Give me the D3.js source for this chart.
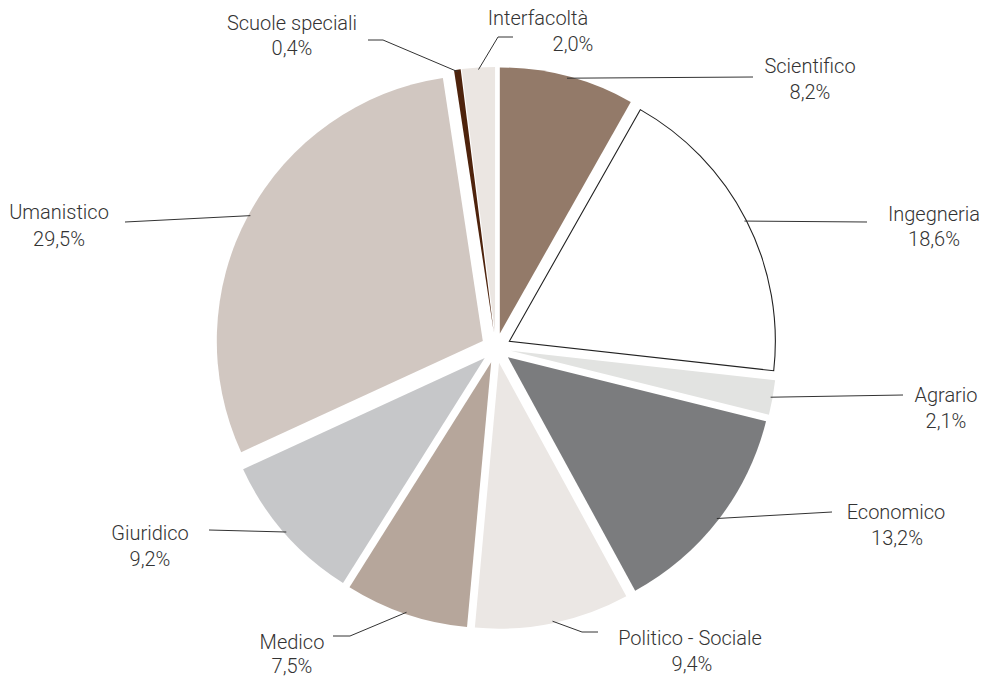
<!DOCTYPE html>
<html>
<head>
<meta charset="utf-8">
<script src="https://cdn.jsdelivr.net/npm/d3@7"></script>
<style>
  html, body { margin: 0; padding: 0; background: #ffffff; }
  svg { display: block; }
  text { font-family: Roboto, "Liberation Sans", sans-serif; font-weight: 300; fill: #333333; }
</style>
</head>
<body>
<svg id="chart" width="992" height="678"></svg>
<script>
// ---- data ----
const categories = ["Scientifico", "Ingegneria", "Agrario", "Economico", "Politico - Sociale",
                    "Medico", "Giuridico", "Umanistico", "Scuole speciali", "Interfacoltà"];
const values = [8.2, 18.6, 2.1, 13.2, 9.4, 7.5, 9.2, 29.5, 0.4, 2.0];
const valueLabels = ["8,2%", "18,6%", "2,1%", "13,2%", "9,4%", "7,5%", "9,2%", "29,5%", "0,4%", "2,0%"];
const colors = ["#937a69", "#ffffff", "#e2e3e1", "#7b7c7e", "#ebe7e4",
                "#b6a69b", "#c6c7c9", "#d1c7c1", "#4e230c", "#ebe6e2"];

// ---- layout (label anchors and leader ends) ----
const labelLayout = [
  { name: [810, 73],  pct: [810, 99],  leader: [[753, 77]] },
  { name: [934, 221], pct: [934, 246], leader: [[867, 222]] },
  { name: [946, 402], pct: [946, 428], leader: [[903, 395]] },
  { name: [896, 519], pct: [897, 545], leader: [[832, 512]] },
  { name: [690, 645], pct: [692, 671], leader: [[582, 632], [598, 632]] },
  { name: [292, 649], pct: [292, 673], leader: [[350, 636], [333, 636]] },
  { name: [150, 540], pct: [150, 566], leader: [[209, 530]] },
  { name: [59, 219],  pct: [59, 246],  leader: [[125, 222]] },
  { name: [292, 30],  pct: [292, 55],  leader: [[383, 40], [368, 40]] },
  { name: [538, 25],  pct: [573, 51],  leader: [[498, 37], [513, 37]] }
];

const cx = 496, cy = 348, R = 266, explode = 15;

const svg = d3.select("#chart");
const g = svg.append("g").attr("transform", `translate(${cx},${cy})`);

const pie = d3.pie().sort(null).value(d => d.v);
const data = pie(values.map((v, i) => ({ v, i })));
const arc = d3.arc().innerRadius(0).outerRadius(R);

const offset = d => {
  const m = (d.startAngle + d.endAngle) / 2;
  return [explode * Math.sin(m), -explode * Math.cos(m)];
};

g.selectAll("path.slice")
  .data(data)
  .join("path")
  .attr("class", "slice")
  .attr("d", arc)
  .attr("transform", d => { const o = offset(d); return `translate(${o[0]},${o[1]})`; })
  .attr("fill", d => colors[d.data.i])
  .attr("stroke", d => d.data.i === 1 ? "#222222" : "none")
  .attr("stroke-width", d => d.data.i === 1 ? 1.1 : 0);

// leader lines
const line = d3.line();
data.forEach(d => {
  const i = d.data.i;
  const m = (d.startAngle + d.endAngle) / 2;
  const o = offset(d);
  const start = [cx + o[0] + (R - 2) * Math.sin(m), cy + o[1] - (R - 2) * Math.cos(m)];
  const pts = [start].concat(labelLayout[i].leader);
  svg.append("path")
    .attr("d", line(pts))
    .attr("fill", "none")
    .attr("stroke", "#333333")
    .attr("stroke-width", 1);
});

// labels
const labels = svg.append("g");
data.forEach(d => {
  const i = d.data.i;
  const L = labelLayout[i];
  labels.append("text")
    .attr("x", L.name[0]).attr("y", L.name[1])
    .attr("text-anchor", "middle")
    .attr("font-size", 20)
    .text(categories[i]);
  labels.append("text")
    .attr("x", L.pct[0]).attr("y", L.pct[1])
    .attr("text-anchor", "middle")
    .attr("font-size", 20)
    .text(valueLabels[i]);
});
</script>
</body>
</html>
